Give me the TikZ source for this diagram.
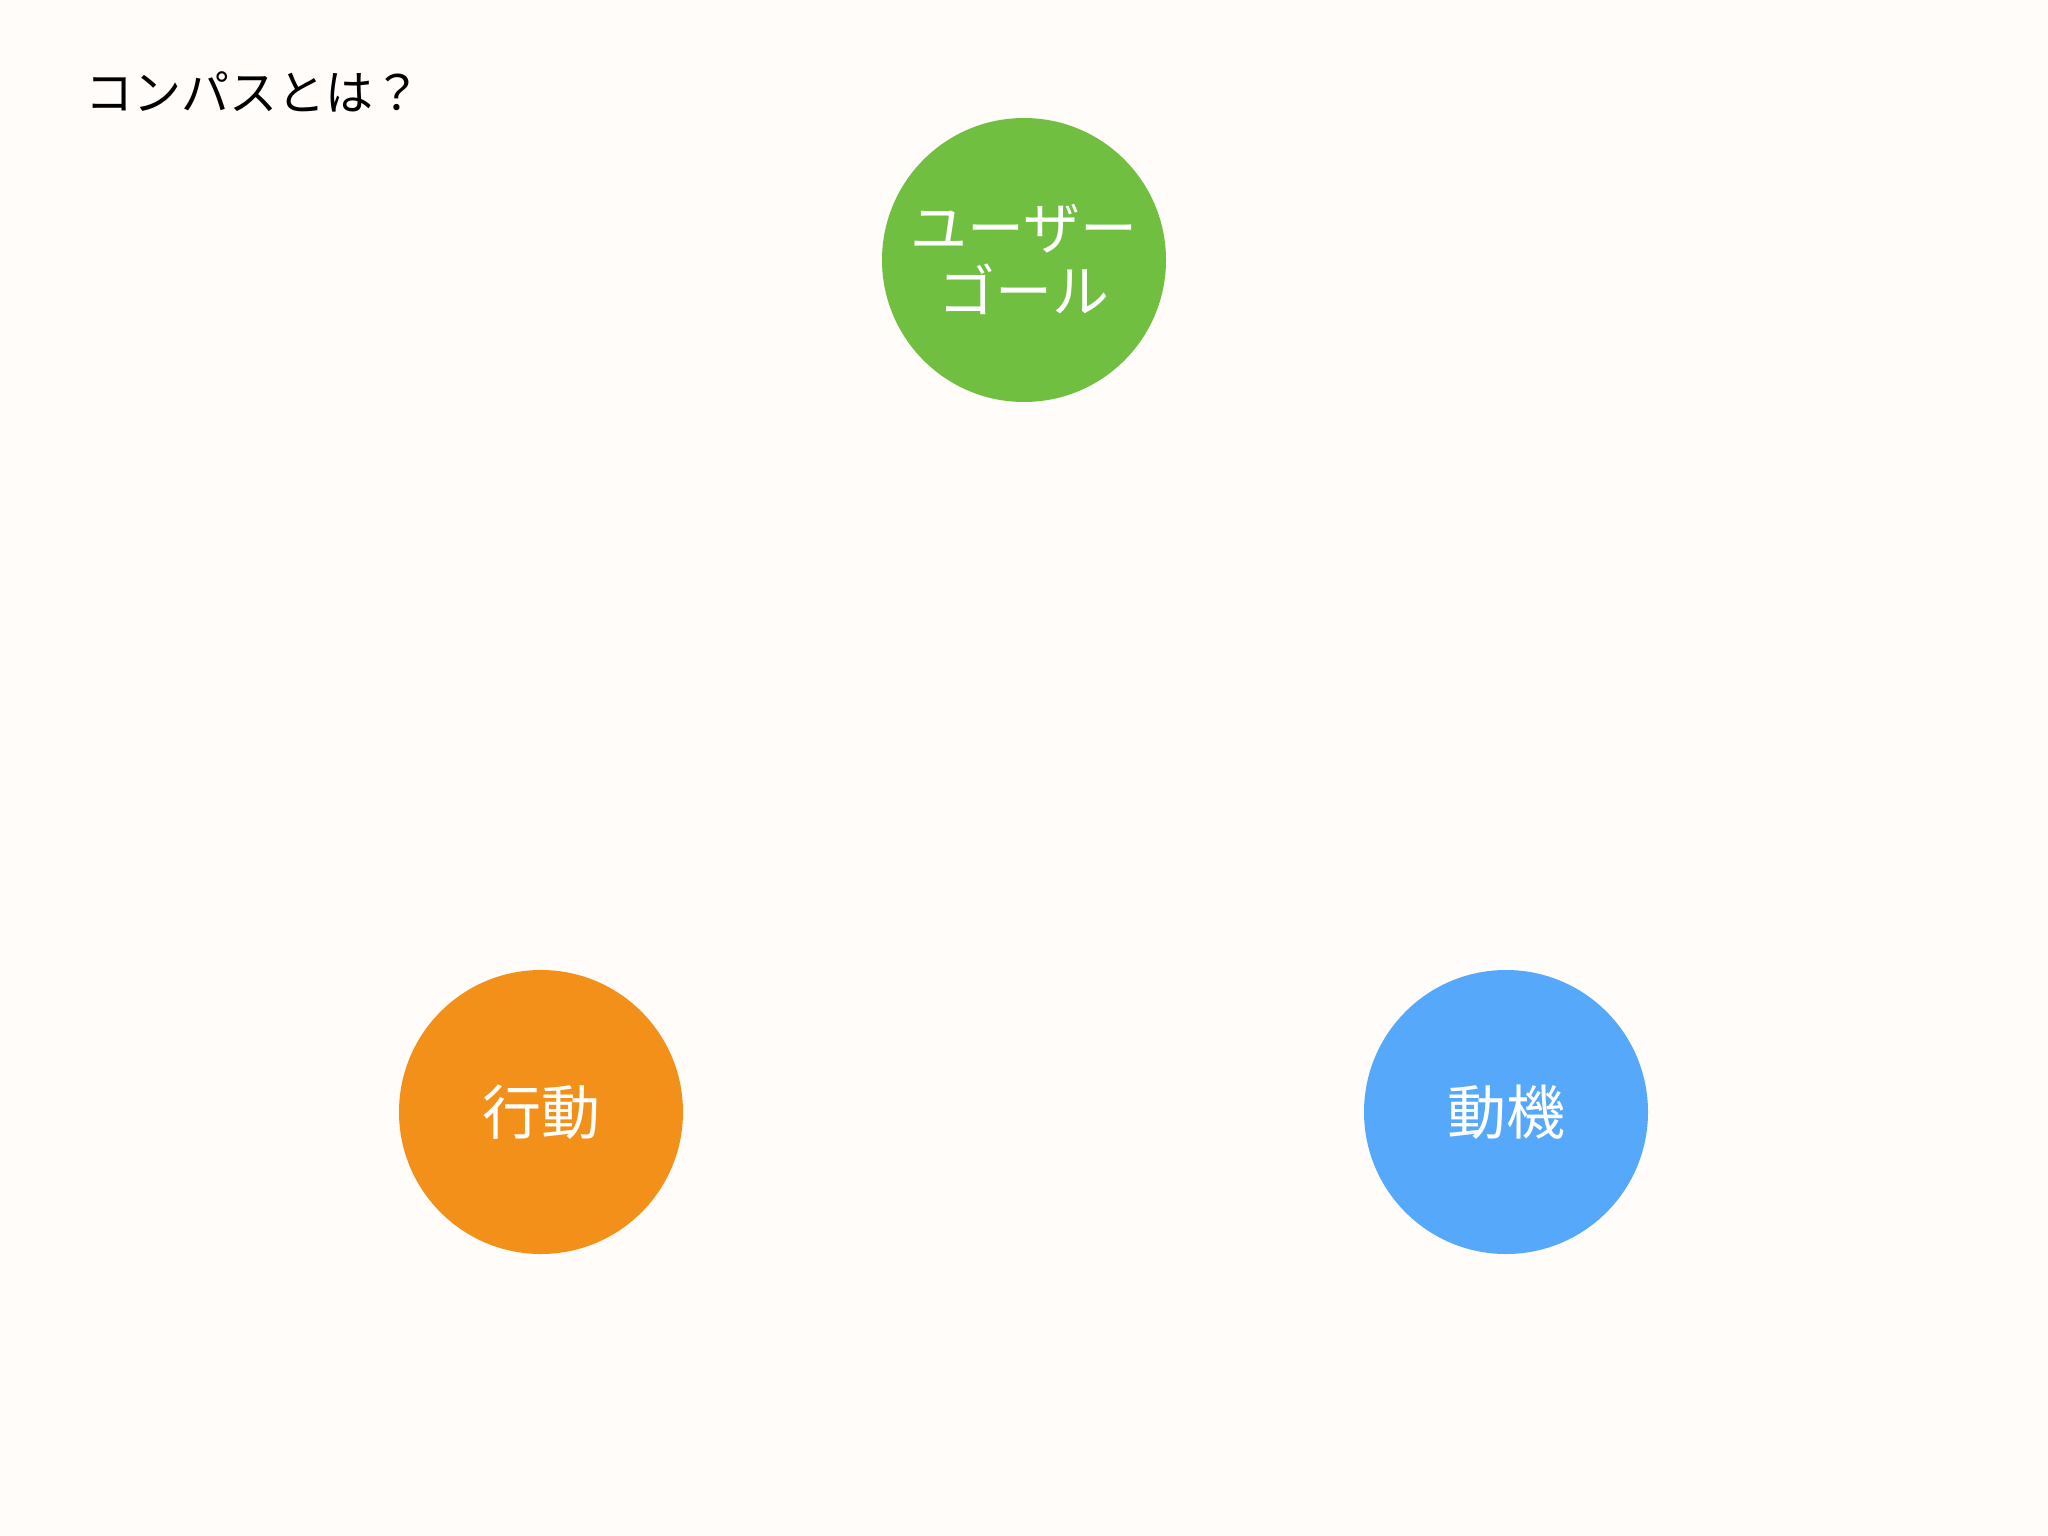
\documentclass[tikz,border=0pt]{standalone}
\usepackage{fontspec}
\newfontfamily\cjk{Noto Sans CJK JP}
\definecolor{bgc}{HTML}{FFFCF9}
\definecolor{goalc}{HTML}{70BF41}
\definecolor{actc}{HTML}{F39019}
\definecolor{motc}{HTML}{56A8FB}
\tikzset{
  bubble/.style={circle, minimum size=284pt, inner sep=0pt, text=white, align=center,
    font=\cjk\fontsize{57}{63}\selectfont},
  bigword/.style={font=\cjk\fontsize{59}{63}\selectfont},
}
\begin{document}
\begin{tikzpicture}[x=1pt,y=-1pt]
\fill[bgc] (0,0) rectangle (2048,1536);
\useasboundingbox (0,0) rectangle (2048,1536);
\node[anchor=west, inner sep=0pt, font=\cjk\fontsize{48}{52}\selectfont] (title) at (85,92) {コンパスとは？};
\node[bubble, fill=goalc] (goal) at (1024,260) {ユーザー\\ゴール};
\node[bubble, bigword, fill=actc] (act) at (541,1112) {行動};
\node[bubble, bigword, fill=motc] (mot) at (1506,1112) {動機};
\end{tikzpicture}
\end{document}
